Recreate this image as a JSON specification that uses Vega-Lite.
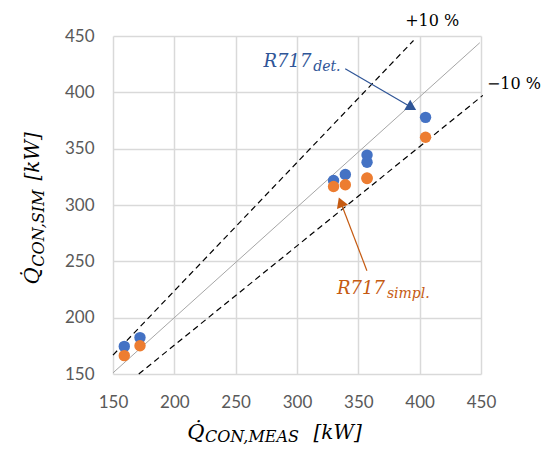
{
  "$schema": "https://vega.github.io/schema/vega-lite/v6.json",
  "width": 368,
  "height": 338,
  "autosize": {"type": "none"},
  "padding": {"left": 113, "top": 36, "right": 71, "bottom": 76},
  "background": "white",
  "config": {"view": {"stroke": null}},
  "encoding": {
    "x": {"field": "x", "type": "quantitative",
      "scale": {"domain": [150, 450], "nice": false, "zero": false},
      "axis": {"values": [150, 200, 250, 300, 350, 400, 450], "grid": true, "gridColor": "#d9d9d9", "gridWidth": 1.5,
        "domain": false, "ticks": false, "labelFont": "Lato", "labelFontSize": 17, "labelColor": "#595959",
        "labelPadding": 20, "title": null, "labelFlush": false}},
    "y": {"field": "y", "type": "quantitative",
      "scale": {"domain": [150, 450], "nice": false, "zero": false},
      "axis": {"values": [150, 200, 250, 300, 350, 400, 450], "grid": true, "gridColor": "#d9d9d9", "gridWidth": 1.5,
        "domain": false, "ticks": false, "labelFont": "Lato", "labelFontSize": 17, "labelColor": "#595959",
        "labelPadding": 19, "title": null, "labelFlush": false}}
  },
  "layer": [
    {
      "data": {"values": [{"x": 150, "y": 151, "x2": 449, "y2": 444}]},
      "mark": {"type": "rule", "color": "#a6a6a6", "strokeWidth": 1},
      "encoding": {"x2": {"field": "x2"}, "y2": {"field": "y2"}}
    },
    {
      "data": {"values": [
        {"x": 150, "y": 166.8, "x2": 395, "y2": 446},
        {"x": 171, "y": 150, "x2": 451.5, "y2": 397.3}
      ]},
      "mark": {"type": "rule", "color": "#000000", "strokeWidth": 1.2, "strokeDash": [6, 4]},
      "encoding": {"x2": {"field": "x2"}, "y2": {"field": "y2"}}
    },
    {
      "data": {"values": [
        {"x": 159.2, "y": 174.5}, {"x": 172.0, "y": 182.3}, {"x": 329.8, "y": 321.8},
        {"x": 339.4, "y": 327.1}, {"x": 357.1, "y": 344.3}, {"x": 357.1, "y": 338.0}, {"x": 404.8, "y": 377.8}
      ]},
      "mark": {"type": "point", "shape": "circle", "filled": true, "opacity": 1, "size": 130, "color": "#4472C4"}
    },
    {
      "data": {"values": [
        {"x": 159.2, "y": 166.3}, {"x": 172.0, "y": 175.1}, {"x": 329.8, "y": 316.4},
        {"x": 339.4, "y": 318.0}, {"x": 357.1, "y": 323.5}, {"x": 357.1, "y": 324.0}, {"x": 404.8, "y": 360.2}
      ]},
      "mark": {"type": "point", "shape": "circle", "filled": true, "opacity": 1, "size": 130, "color": "#ED7D31"}
    },
    {
      "data": {"values": [{"x": 339.3, "y": 421, "x2": 393.5, "y2": 386.6}]},
      "mark": {"type": "rule", "color": "#2F5597", "strokeWidth": 1.2},
      "encoding": {"x2": {"field": "x2"}, "y2": {"field": "y2"}}
    },
    {
      "data": {"values": [{"x": 393.5, "y": 386.6}]},
      "mark": {"type": "point", "shape": "triangle-up", "filled": true, "opacity": 1, "size": 140, "angle": 120, "color": "#2F5597"}
    },
    {
      "data": {"values": [{"x": 357, "y": 241.7, "x2": 335.6, "y2": 302.5}]},
      "mark": {"type": "rule", "color": "#C55A11", "strokeWidth": 1.2},
      "encoding": {"x2": {"field": "x2"}, "y2": {"field": "y2"}}
    },
    {
      "data": {"values": [{"x": 335.6, "y": 302.5}]},
      "mark": {"type": "point", "shape": "triangle-up", "filled": true, "opacity": 1, "size": 140, "angle": -21, "color": "#C55A11"}
    },
    {
      "data": {"values": [{"x": 388.2, "y": 458.9, "t": "+10 %"}, {"x": 454.8, "y": 402.6, "t": "−10 %"}]},
      "mark": {"type": "text", "font": "DejaVu Serif", "fontSize": 16, "align": "left", "baseline": "alphabetic", "color": "#000000"},
      "encoding": {"text": {"field": "t"}}
    },
    {
      "data": {"values": [{"x": 272.7, "y": 422.4, "t": "R717"}]},
      "mark": {"type": "text", "font": "DejaVu Serif", "fontStyle": "italic", "fontSize": 18, "align": "left", "baseline": "alphabetic", "color": "#2F5597"},
      "encoding": {"text": {"field": "t"}}
    },
    {
      "data": {"values": [{"x": 313.2, "y": 418.5, "t": "det."}]},
      "mark": {"type": "text", "font": "DejaVu Serif", "fontStyle": "italic", "fontSize": 14, "align": "left", "baseline": "alphabetic", "color": "#2F5597"},
      "encoding": {"text": {"field": "t"}}
    },
    {
      "data": {"values": [{"x": 332.6, "y": 221, "t": "R717"}]},
      "mark": {"type": "text", "font": "DejaVu Serif", "fontStyle": "italic", "fontSize": 18, "align": "left", "baseline": "alphabetic", "color": "#C55A11"},
      "encoding": {"text": {"field": "t"}}
    },
    {
      "data": {"values": [{"x": 373.3, "y": 217.7, "t": "simpl."}]},
      "mark": {"type": "text", "font": "DejaVu Serif", "fontStyle": "italic", "fontSize": 14, "align": "left", "baseline": "alphabetic", "color": "#C55A11"},
      "encoding": {"text": {"field": "t"}}
    },
    {
      "data": {"values": [{"x": 210.6, "y": 92.5, "t": "Q̇"}]},
      "mark": {"type": "text", "font": "DejaVu Serif", "fontStyle": "italic", "fontSize": 21, "align": "left", "baseline": "alphabetic", "color": "#000000"},
      "encoding": {"text": {"field": "t"}}
    },
    {
      "data": {"values": [{"x": 225.0, "y": 89.8, "t": "CON,MEAS"}]},
      "mark": {"type": "text", "font": "DejaVu Serif", "fontStyle": "italic", "fontSize": 16, "align": "left", "baseline": "alphabetic", "color": "#000000"},
      "encoding": {"text": {"field": "t"}}
    },
    {
      "data": {"values": [{"x": 313.5, "y": 92.5, "t": "[kW]"}]},
      "mark": {"type": "text", "font": "DejaVu Serif", "fontStyle": "italic", "fontSize": 20, "align": "left", "baseline": "alphabetic", "color": "#000000"},
      "encoding": {"text": {"field": "t"}}
    },
    {
      "data": {"values": [{"x": 89.9, "y": 229.4, "t": "Q̇"}]},
      "mark": {"type": "text", "font": "DejaVu Serif", "fontStyle": "italic", "fontSize": 21, "align": "left", "baseline": "alphabetic", "angle": 270, "color": "#000000"},
      "encoding": {"text": {"field": "t"}}
    },
    {
      "data": {"values": [{"x": 93.4, "y": 245.3, "t": "CON,SIM"}]},
      "mark": {"type": "text", "font": "DejaVu Serif", "fontStyle": "italic", "fontSize": 16, "align": "left", "baseline": "alphabetic", "angle": 270, "color": "#000000"},
      "encoding": {"text": {"field": "t"}}
    },
    {
      "data": {"values": [{"x": 89.9, "y": 321.8, "t": "[kW]"}]},
      "mark": {"type": "text", "font": "DejaVu Serif", "fontStyle": "italic", "fontSize": 20, "align": "left", "baseline": "alphabetic", "angle": 270, "color": "#000000"},
      "encoding": {"text": {"field": "t"}}
    }
  ]
}
